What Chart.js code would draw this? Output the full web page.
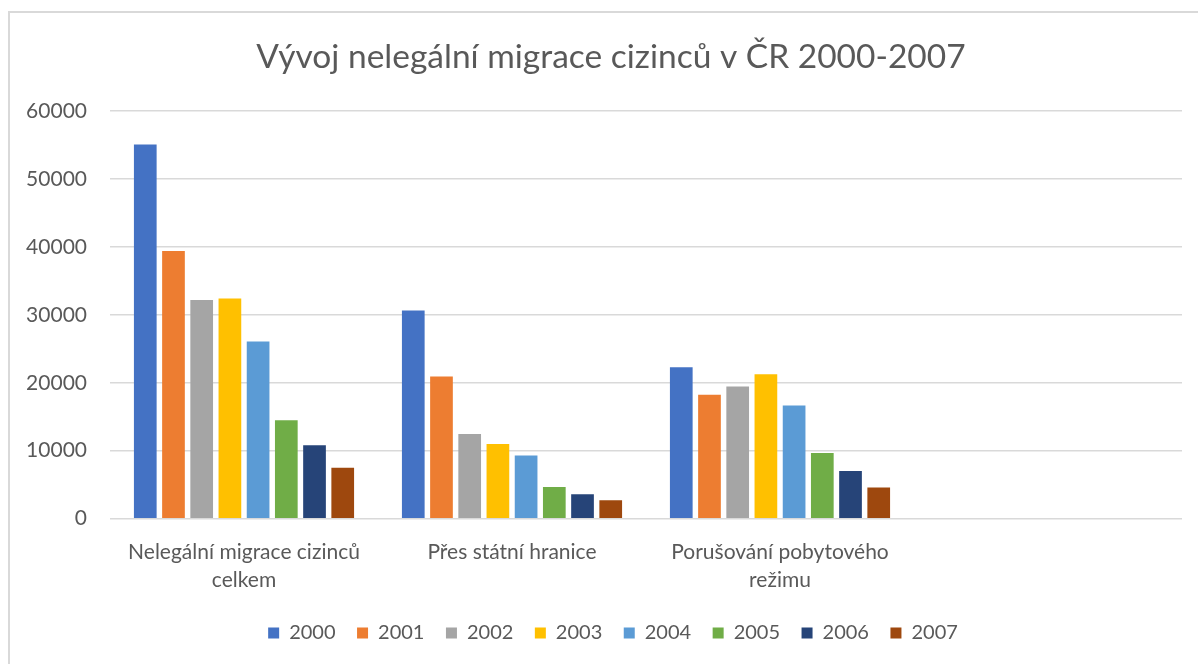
<!DOCTYPE html>
<html>
<head>
<meta charset="utf-8">
<script src="https://cdn.jsdelivr.net/npm/chart.js@4"></script>
<style>
html,body{margin:0;padding:0;background:#fff;overflow:hidden;}
#wrap{position:relative;width:1198px;height:664px;}
#frame{position:absolute;left:8px;top:11px;width:1300px;height:800px;border:2px solid #d9d9d9;box-sizing:border-box;}
canvas{position:absolute;left:0;top:0;}
</style>
</head>
<body>
<div id="wrap"><div id="frame"></div><canvas id="c" width="1198" height="664"></canvas></div>
<script>
const categories = [["Nelegální migrace cizinců","celkem"], "Přes státní hranice", ["Porušování pobytového","režimu"], ""];
const years = ["2000","2001","2002","2003","2004","2005","2006","2007"];
const colors = ["#4472c4","#ed7d31","#a5a5a5","#ffc000","#5b9bd5","#70ad47","#264478","#9e480e"];
const v2000 = [55100, 30650, 22300, null];
const v2001 = [39400, 20950, 18250, null];
const v2002 = [32200, 12450, 19450, null];
const v2003 = [32400, 11000, 21250, null];
const v2004 = [26100, 9300, 16650, null];
const v2005 = [14500, 4650, 9650, null];
const v2006 = [10800, 3600, 7000, null];
const v2007 = [7500, 2700, 4600, null];
const yTicks = [0,10000,20000,30000,40000,50000,60000];
const series = [v2000,v2001,v2002,v2003,v2004,v2005,v2006,v2007];

const FONT = "Lato, 'Open Sans', sans-serif";
const shiftBlocks = {
  id: 'shiftBlocks',
  afterLayout(chart) {
    if (chart.titleBlock) { chart.titleBlock.left += 20; chart.titleBlock.right += 20; }
    if (chart.legend) {
      chart.legend.left += 22; chart.legend.right += 22;
      chart.legend.top -= 13; chart.legend.bottom -= 13;
    }
  }
};
new Chart(document.getElementById('c'), {
  type: 'bar',
  data: {
    labels: categories,
    datasets: series.map((d,i)=>({label: years[i], data: d, backgroundColor: colors[i], borderWidth: 0,
      categoryPercentage: 0.842, barPercentage: 0.805}))
  },
  plugins: [shiftBlocks],
  options: {
    responsive: false,
    animation: false,
    layout: {padding: {left: 0, right: 16, top: 0, bottom: -2}},
    plugins: {
      title: {display: true, text: "Vývoj nelegální migrace cizinců v ČR 2000-2007", color: "#595959",
        font: {family: FONT, size: 33.5, weight: 'normal'}, padding: {top: 37, bottom: 34}},
      legend: {position: 'bottom', labels: {color: "#595959", boxWidth: 11, boxHeight: 11, padding: 21.5,
        font: {family: FONT, size: 20}}},
      tooltip: {enabled: false}
    },
    scales: {
      x: {grid: {display: false, drawTicks: false}, border: {display: false},
        ticks: {color: "#595959", font: {family: FONT, size: 21, lineHeight: 1.33}, maxRotation: 0, autoSkip: false, padding: 20}},
      y: {min: 0, max: 60000, afterBuildTicks: s => { s.ticks = yTicks.map(v=>({value:v})); },
        afterFit: s => { s.width = 110; },
        grid: {color: "#d9d9d9", lineWidth: 1.5, drawTicks: false}, border: {display: false},
        ticks: {color: "#595959", font: {family: FONT, size: 21}, padding: 23, callback: v => String(v)}}
    }
  }
});
</script>
</body>
</html>
